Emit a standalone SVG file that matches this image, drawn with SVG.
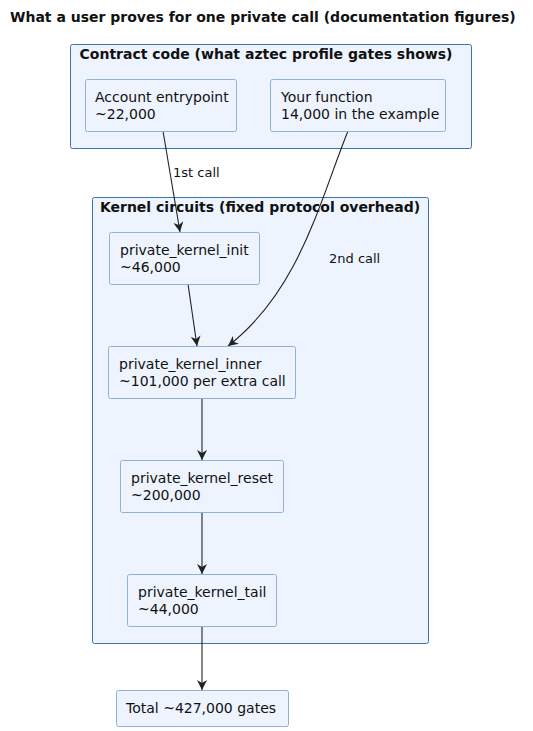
<svg xmlns="http://www.w3.org/2000/svg" width="533" height="731" viewBox="0 0 533 731">
<style>
text{font-family:"DejaVu Sans",sans-serif;fill:#111}
.t{font-size:14px;font-weight:bold}
.cl{font-size:14px;font-weight:bold;text-anchor:middle}
.n{font-size:14px}
.e{font-size:13px}
.cluster{fill:#edf4fe;stroke:#3d72b8;stroke-width:1}
.node{fill:#eef4fe;stroke:#8eb0d9;stroke-width:1}
.c{fill:none;stroke:#222;stroke-width:1.1}
</style>
<defs>
<marker id="a" viewBox="0 0 10 10" refX="10" refY="5" markerWidth="10" markerHeight="10" markerUnits="userSpaceOnUse" orient="auto">
<path d="M0,0 L10,5 L0,10 L3,5 Z" fill="#222"/>
</marker>
</defs>
<rect width="533" height="731" fill="#fff"/>
<text class="t" x="10" y="22">What a user proves for one private call (documentation figures)</text>
<g id="cluster_contract">
<rect class="cluster" x="70.5" y="44.5" width="401" height="104" rx="2"/>
<text class="cl" x="266" y="59">Contract code (what aztec profile gates shows)</text>
</g>
<g id="cluster_kernel">
<rect class="cluster" x="92.5" y="197.5" width="336" height="446" rx="2"/>
<text class="cl" x="260" y="212">Kernel circuits (fixed protocol overhead)</text>
</g>
<g id="connectors">
<path class="c" d="M163,131 L180,232" marker-end="url(#a)"/>
<path class="c" d="M348,131 C320,200 300,290 228,346" marker-end="url(#a)"/>
<path class="c" d="M188,284 L197,346" marker-end="url(#a)"/>
<path class="c" d="M202,398 L202,460" marker-end="url(#a)"/>
<path class="c" d="M202,512 L202,574" marker-end="url(#a)"/>
<path class="c" d="M202,626 L202,690" marker-end="url(#a)"/>
<text class="e" x="173" y="177">1st call</text>
<text class="e" x="329" y="263">2nd call</text>
</g>
<g id="account">
<rect class="node" x="85.5" y="79.5" width="151" height="52" rx="2"/>
<text class="n" x="95" y="102">Account entrypoint</text>
<text class="n" x="95" y="119">~22,000</text>
</g>
<g id="yourfn">
<rect class="node" x="270.5" y="79.5" width="175" height="52" rx="2"/>
<text class="n" x="281" y="102">Your function</text>
<text class="n" x="281" y="119">14,000 in the example</text>
</g>
<g id="init">
<rect class="node" x="109.5" y="232.5" width="150" height="52" rx="2"/>
<text class="n" x="120" y="255">private_kernel_init</text>
<text class="n" x="120" y="272">~46,000</text>
</g>
<g id="inner">
<rect class="node" x="108.5" y="346.5" width="187" height="52" rx="2"/>
<text class="n" x="119" y="369">private_kernel_inner</text>
<text class="n" x="119" y="386">~101,000 per extra call</text>
</g>
<g id="reset">
<rect class="node" x="120.5" y="460.5" width="163" height="52" rx="2"/>
<text class="n" x="131" y="483">private_kernel_reset</text>
<text class="n" x="131" y="500">~200,000</text>
</g>
<g id="tail">
<rect class="node" x="127.5" y="574.5" width="149" height="52" rx="2"/>
<text class="n" x="138" y="597">private_kernel_tail</text>
<text class="n" x="138" y="614">~44,000</text>
</g>
<g id="total">
<rect class="node" x="116.5" y="690.5" width="172" height="36" rx="2"/>
<text class="n" x="126" y="713">Total ~427,000 gates</text>
</g>
</svg>
